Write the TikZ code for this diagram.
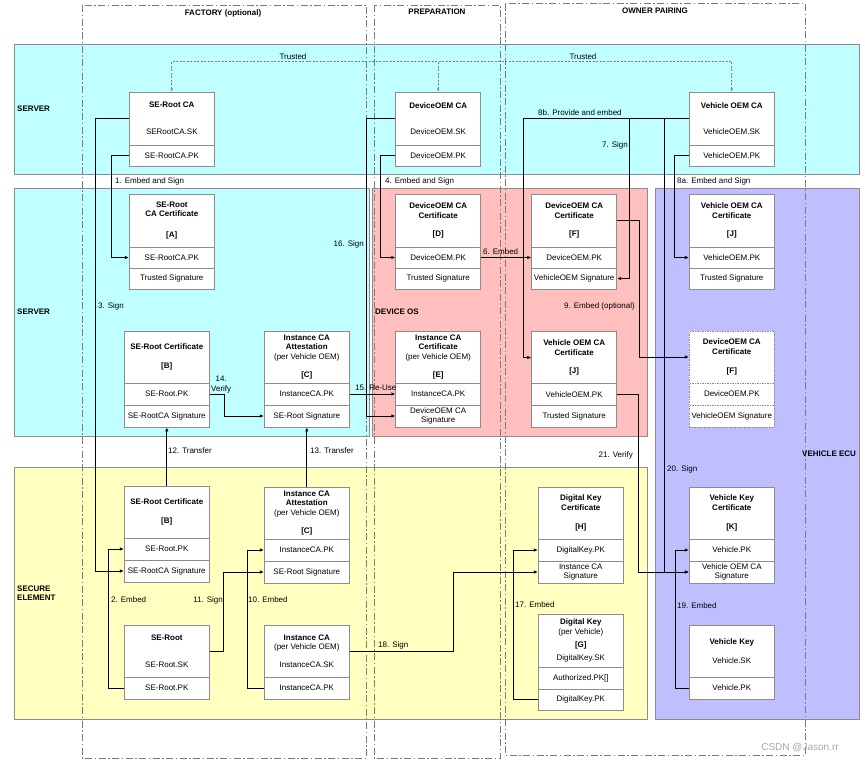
\documentclass[tikz,border=0pt]{standalone}
\usepackage{fontspec}
\setmainfont{Liberation Sans}
\usetikzlibrary{arrows.meta,calc}
\definecolor{dkciano}{HTML}{BFFFFF}
\definecolor{dkrosa}{HTML}{FFBFBF}
\definecolor{dklilas}{HTML}{BFBFFF}
\definecolor{dkamarelo}{HTML}{FFFFBF}
\definecolor{dkborda}{HTML}{8C8C8C}
\definecolor{dkfase}{HTML}{7A7A7A}
\tikzset{
  dkfaixa/.style={draw=dkborda, line width=0.9pt},
  dkfasebox/.style={draw=dkfase, line width=0.8pt, dash pattern=on 7pt off 2.5pt on 1.5pt off 2.5pt},
  dkhead/.style={draw=dkborda, fill=white, line width=0.8pt, minimum width=85, inner sep=0pt,
                 align=center, font=\fontsize{8}{9.6}\selectfont},
  dkrow/.style={draw=dkborda, fill=white, line width=0.8pt, minimum width=85, minimum height=22,
                inner sep=0pt, align=center, font=\fontsize{8}{9.6}\selectfont},
  dkpont/.style={dash pattern=on 1.5pt off 1pt},
  dkseta/.style={-{Latex[length=4pt,width=3.5pt]}, line width=0.8pt, draw=black},
  dktrust/.style={draw=dkfase, line width=0.7pt, dash pattern=on 2pt off 1.5pt},
  dkrotulo/.style={font=\fontsize{8}{9.6}\selectfont, inner sep=0pt},
  dkbanda/.style={font=\fontsize{8}{9.6}\selectfont\bfseries, inner sep=0pt, align=left},
}
\begin{document}
\begin{tikzpicture}[x=1pt, y=-1pt]
    \useasboundingbox (0,0) rectangle (865,763);
    % faixas
    \draw[dkfaixa, fill=dkciano] (14,44) rectangle (859,174);
    \draw[dkfaixa, fill=dkciano] (14,188) rectangle (369,436);
    \draw[dkfaixa, fill=dkrosa] (372,188) rectangle (647,436);
    \draw[dkfaixa, fill=dklilas] (655,188) rectangle (859,719);
    \draw[dkfaixa, fill=dkamarelo] (14,467) rectangle (647,719);
    % fases
    \draw[dkfasebox] (82,5) rectangle (366.5,758);
    \draw[dkfasebox] (374,5) rectangle (500,758);
    \draw[dkfasebox] (505,3.5) rectangle (805,755);
    \node[dkbanda] (ffab) at (223,13) {FACTORY (optional)};
    \node[dkbanda] (fprep) at (437,12) {PREPARATION};
    \node[dkbanda] (fown) at (655,11) {OWNER PAIRING};
    % rotulos das faixas
    \node[dkbanda, anchor=west] (bserv) at (17,109) {SERVER};
    \node[dkbanda, anchor=west] (bserv2) at (17,312) {SERVER};
    \node[dkbanda, anchor=west] (bdos) at (375,312) {DEVICE OS};
    \node[dkbanda, anchor=west] (becu) at (802,454) {VEHICLE ECU};
    \node[dkbanda, anchor=west] (bse) at (17,593) {SECURE\\ELEMENT};
    % server (topo)
    \node[dkhead, minimum height=53] (srca) at (171.8,118.5) {\textbf{SE-Root CA}\\[17pt]SERootCA.SK};
    \node[dkrow, minimum height=21] (srcapk) at (171.8,155.5) {SE-RootCA.PK};
    \node[dkhead, minimum height=53] (dca) at (438.2,118.5) {\textbf{DeviceOEM CA}\\[17pt]DeviceOEM.SK};
    \node[dkrow, minimum height=21] (dcapk) at (438.2,155.5) {DeviceOEM.PK};
    \node[dkhead, minimum height=53] (vca) at (731.8,118.5) {\textbf{Vehicle OEM CA}\\[17pt]VehicleOEM.SK};
    \node[dkrow, minimum height=21] (vcapk) at (731.8,155.5) {VehicleOEM.PK};
    % certificados (linha de cima)
    \node[dkhead, minimum height=53] (certa) at (171.8,220.5) {\textbf{SE-Root}\\\textbf{CA Certificate}\\[11pt]\textbf{[A]}};
    \node[dkrow, minimum height=21] (certapk) at (171.8,257.5) {SE-RootCA.PK};
    \node[dkrow, minimum height=21] (certasig) at (171.8,278.5) {Trusted Signature};
    \node[dkhead, minimum height=53] (certd) at (438.2,220.5) {\textbf{DeviceOEM CA}\\\textbf{Certificate}\\[9pt]\textbf{[D]}};
    \node[dkrow, minimum height=21] (certdpk) at (438.2,257.5) {DeviceOEM.PK};
    \node[dkrow, minimum height=21] (certdsig) at (438.2,278.5) {Trusted Signature};
    \node[dkhead, minimum height=53] (certf) at (574.2,220.5) {\textbf{DeviceOEM CA}\\\textbf{Certificate}\\[9pt]\textbf{[F]}};
    \node[dkrow, minimum height=21] (certfpk) at (574.2,257.5) {DeviceOEM.PK};
    \node[dkrow, minimum height=21] (certfsig) at (574.2,278.5) {VehicleOEM Signature};
    \node[dkhead, minimum height=53] (certjv) at (731.8,220.5) {\textbf{Vehicle OEM CA}\\\textbf{Certificate}\\[9pt]\textbf{[J]}};
    \node[dkrow, minimum height=21] (certjvpk) at (731.8,257.5) {VehicleOEM.PK};
    \node[dkrow, minimum height=21] (certjvsig) at (731.8,278.5) {Trusted Signature};
    % certificados (linha de baixo)
    \node[dkhead, minimum height=52] (certbs) at (166.8,357) {\textbf{SE-Root Certificate}\\[10pt]\textbf{[B]}};
    \node[dkrow] (certbspk) at (166.8,394) {SE-Root.PK};
    \node[dkrow] (certbssig) at (166.8,416) {SE-RootCA Signature};
    \node[dkhead, minimum height=52] (attcs) at (306.8,357) {\textbf{Instance CA}\\\textbf{Attestation}\\(per Vehicle OEM)\\[9pt]\textbf{[C]}};
    \node[dkrow] (attcspk) at (306.8,394) {InstanceCA.PK};
    \node[dkrow] (attcssig) at (306.8,416) {SE-Root Signature};
    \node[dkhead, minimum height=52] (certe) at (438.2,357) {\textbf{Instance CA}\\\textbf{Certificate}\\(per Vehicle OEM)\\[9pt]\textbf{[E]}};
    \node[dkrow] (certepk) at (438.2,394) {InstanceCA.PK};
    \node[dkrow] (certesig) at (438.2,416) {DeviceOEM CA\\Signature};
    \node[dkhead, minimum height=52] (certjd) at (574.2,357.5) {\textbf{Vehicle OEM CA}\\\textbf{Certificate}\\[9pt]\textbf{[J]}};
    \node[dkrow] (certjdpk) at (574.2,394.5) {VehicleOEM.PK};
    \node[dkrow] (certjdsig) at (574.2,416.5) {Trusted Signature};
    \node[dkhead, dkpont, minimum height=52] (certfv) at (731.8,357) {\textbf{DeviceOEM CA}\\\textbf{Certificate}\\[9pt]\textbf{[F]}};
    \node[dkrow, dkpont] (certfvpk) at (731.8,394) {DeviceOEM.PK};
    \node[dkrow, dkpont] (certfvsig) at (731.8,416) {VehicleOEM Signature};
    % secure element
    \node[dkhead, minimum height=52] (certb) at (166.8,512) {\textbf{SE-Root Certificate}\\[10pt]\textbf{[B]}};
    \node[dkrow] (certbpk) at (166.8,549) {SE-Root.PK};
    \node[dkrow] (certbsig) at (166.8,571) {SE-RootCA Signature};
    \node[dkhead, minimum height=52] (attc) at (306.8,513) {\textbf{Instance CA}\\\textbf{Attestation}\\(per Vehicle OEM)\\[9pt]\textbf{[C]}};
    \node[dkrow] (attcpk) at (306.8,550) {InstanceCA.PK};
    \node[dkrow] (attcsig) at (306.8,572) {SE-Root Signature};
    \node[dkhead, minimum height=52] (seroot) at (166.8,651) {\textbf{SE-Root}\\[17pt]SE-Root.SK};
    \node[dkrow] (serootpk) at (166.8,688) {SE-Root.PK};
    \node[dkhead, minimum height=52] (instca) at (306.8,651) {\textbf{Instance CA}\\(per Vehicle OEM)\\[8pt]InstanceCA.SK};
    \node[dkrow] (instcapk) at (306.8,688) {InstanceCA.PK};
    \node[dkhead, minimum height=52] (dkcert) at (580.8,513) {\textbf{Digital Key}\\\textbf{Certificate}\\[9pt]\textbf{[H]}};
    \node[dkrow] (dkcertpk) at (580.8,550) {DigitalKey.PK};
    \node[dkrow] (dkcertsig) at (580.8,572) {Instance CA\\Signature};
    \node[dkhead, minimum height=53] (dkey) at (580.8,640.5) {\textbf{Digital Key}\\(per Vehicle)\\[3.5pt]\textbf{[G]}\\[3.5pt]DigitalKey.SK};
    \node[dkrow] (dkeyauth) at (580.8,678) {Authorized.PK[]};
    \node[dkrow, minimum height=21] (dkeypk) at (580.8,699.5) {DigitalKey.PK};
    % vehicle ecu
    \node[dkhead, minimum height=52] (vkcert) at (731.8,513) {\textbf{Vehicle Key}\\\textbf{Certificate}\\[9pt]\textbf{[K]}};
    \node[dkrow] (vkcertpk) at (731.8,550) {Vehicle.PK};
    \node[dkrow] (vkcertsig) at (731.8,572) {Vehicle OEM CA\\Signature};
    \node[dkhead, minimum height=52] (vkey) at (731.8,651) {\textbf{Vehicle Key}\\[9pt]Vehicle.SK};
    \node[dkrow] (vkeypk) at (731.8,688) {Vehicle.PK};
    % trusted
    \coordinate (tdev) at (438.2,62);
    \draw[dktrust, {Latex[length=3pt,width=2.5pt]}-{Latex[length=3pt,width=2.5pt]}] (srca.north) -- ++(0,-30) -| (vca.north);
    \draw[dktrust, -{Latex[length=3pt,width=2.5pt]}] (tdev) -- (dca.north);
    \node[dkrotulo] (ltr1) at (293,57) {Trusted};
    \node[dkrotulo] (ltr2) at (583,57) {Trusted};
    % setas
    \draw[dkseta] (srcapk.west) -- ++(-17.3,0) |- (certapk.west);
    \draw[dkseta] (srca.west) -- ++(-33.6,0) |- (certbsig.west);
    \draw[dkseta] (dca.west) -- ++(-29,0) |- (certesig.west);
    \draw[dkseta] (dcapk.west) -- ++(-15,0) |- (certdpk.west);
    \draw[dkseta] (vca.west) -- ++(-166,0) |- (certjd.west);
    \draw[dkseta] (vca.west) -- ++(-59.3,0) |- (certfsig.east);
    \draw[dkseta] (vca.west) -- ++(-24.3,0) |- (vkcertsig.west);
    \draw[dkseta] (vcapk.west) -- ++(-14.6,0) |- (certjvpk.west);
    \draw[dkseta] (certdpk) -- (certfpk);
    \draw[dkseta] (certf.east) -- ++(22.6,0) |- (certfv.west);
    \draw[dkseta] (certjdpk.east) -- ++(21,0) |- (vkcertsig.west);
    \draw[dkseta] (certbspk.east) -- ++(14.7,0) |- (attcssig.west);
    \draw[dkseta] (attcspk) -- (certepk);
    \draw[dkseta] (certb.north) -- (certbssig.south);
    \draw[dkseta] (attc.north) -- (attcssig.south);
    \draw[dkseta] (serootpk.west) -- ++(-15.3,0) |- (certbpk.west);
    \draw[dkseta] (seroot.east) -- ++(14,0) |- (attcsig.west);
    \draw[dkseta] (instcapk.west) -- ++(-16.6,0) |- (attcpk.west);
    \draw[dkseta] (instca.east) -- ++(104,0) |- (dkcertsig.west);
    \draw[dkseta] (dkeypk.west) -- ++(-24.3,0) |- (dkcertpk.west);
    \draw[dkseta] (vkeypk.west) -- ++(-13.6,0) |- (vkcertpk.west);
    % rotulos das setas
    \node[dkrotulo, anchor=west] (l1) at (115,181) {1. Embed and Sign};
    \node[dkrotulo, anchor=west] (l4) at (385,181) {4. Embed and Sign};
    \node[dkrotulo, anchor=west] (l8a) at (677,181) {8a. Embed and Sign};
    \node[dkrotulo, anchor=west] (l8b) at (538,113) {8b. Provide and embed};
    \node[dkrotulo, anchor=east] (l7) at (628,145) {7. Sign};
    \node[dkrotulo, anchor=west] (l3) at (98,306) {3. Sign};
    \node[dkrotulo, anchor=east] (l16) at (364,244) {16. Sign};
    \node[dkrotulo, anchor=west] (l6) at (483,252) {6. Embed};
    \node[dkrotulo, anchor=east] (l9) at (635,306) {9. Embed (optional)};
    \node[dkrotulo, anchor=west, align=left] (l14) at (211,384.5) {\ \ 14.\\Verify};
    \node[dkrotulo, anchor=west] (l15) at (355,388) {15. Re-Use};
    \node[dkrotulo, anchor=west] (l12) at (168,451) {12. Transfer};
    \node[dkrotulo, anchor=west] (l13) at (310,451) {13. Transfer};
    \node[dkrotulo, anchor=east] (l21) at (633,455) {21. Verify};
    \node[dkrotulo, anchor=west] (l20) at (667,469) {20. Sign};
    \node[dkrotulo, anchor=west] (l2) at (111,600) {2. Embed};
    \node[dkrotulo, anchor=east] (l11) at (223,600) {11. Sign};
    \node[dkrotulo, anchor=west] (l10) at (248,600) {10. Embed};
    \node[dkrotulo, anchor=west] (l18) at (378,645) {18. Sign};
    \node[dkrotulo, anchor=west] (l17) at (515,605) {17. Embed};
    \node[dkrotulo, anchor=west] (l19) at (677,606) {19. Embed};
    % marca
    \node[font=\fontsize{10}{12}\selectfont, text=gray!70, inner sep=0pt] (csdn) at (800,748) {CSDN @Jason.rr};
\end{tikzpicture}
\end{document}
